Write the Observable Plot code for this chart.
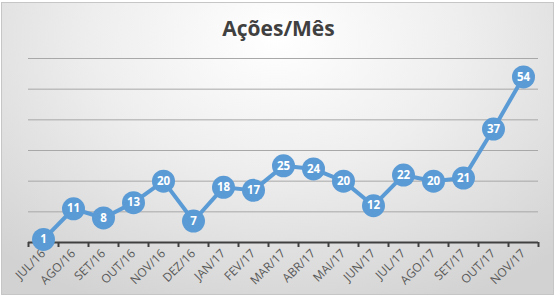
<!DOCTYPE html>
<html><head><meta charset="utf-8">
<script src="https://cdn.jsdelivr.net/npm/d3@7"></script>
<script src="https://cdn.jsdelivr.net/npm/@observablehq/plot@0.6"></script>
<style>
html,body{margin:0;padding:0;background:#fff;}
#wrap{position:relative;width:557px;height:299px;overflow:hidden;}
#box{position:absolute;left:1px;top:2px;width:551px;height:291px;border:1px solid #c6c6c6;
  background:radial-gradient(ellipse 75% 100% at 50% 12%, #ffffff 0%, #eeeeee 45%, #d2d2d2 100%);}
#title{position:absolute;left:0;width:557px;top:13px;text-align:center;font:bold 21px "Open Sans",sans-serif;color:#404040;line-height:30px;}
#plot{position:absolute;left:0;top:46px;}
#plot svg{background:transparent;}
</style></head>
<body>
<div id="wrap"><div id="box"></div><div id="title">Ações/Mês</div><div id="plot"></div></div>
<script>
const months = ["JUL/16","AGO/16","SET/16","OUT/16","NOV/16","DEZ/16","JAN/17","FEV/17","MAR/17","ABR/17","MAI/17","JUN/17","JUL/17","AGO/17","SET/17","OUT/17","NOV/17"];
const values = [1,11,8,13,20,7,18,17,25,24,20,12,22,20,21,37,54];
const gridValues = [10,20,30,40,50,60];

const data = months.map((m,i)=>({i, m, v: values[i]}));
const boundaries = d3.range(months.length + 1).map(k => k - 0.5);
const blue = "#5b9bd5";

const chart = Plot.plot({
  width: 557, height: 253,
  marginTop: 12, marginBottom: 57, marginLeft: 28, marginRight: 19,
  style: {background: "transparent", fontFamily: "Open Sans, sans-serif"},
  x: {type: "linear", domain: [-0.5, months.length - 0.5]},
  y: {domain: [0, 60], axis: null},
  marks: [
    Plot.gridY(gridValues, {stroke: "#a8a8a8", strokeOpacity: 1, strokeWidth: 1}),
    Plot.ruleY([0], {stroke: "#404040", strokeWidth: 2}),
    Plot.axisX({ticks: boundaries, tickSize: 5, tickFormat: () => "", stroke: "#404040", strokeWidth: 2, label: null}),
    Plot.axisX({ticks: d3.range(months.length), tickSize: 0, tickPadding: 9, tickRotate: -45, tickFormat: i => months[i], fill: "#595959", fontSize: 12, label: null}),
    Plot.line(data, {x: "i", y: "v", stroke: blue, strokeWidth: 4}),
    Plot.dot(data, {x: "i", y: "v", r: 11.5, fill: blue, stroke: "none"}),
    Plot.text(data, {x: "i", y: "v", text: d => String(d.v), fill: "white", fontWeight: "bold", fontSize: 11.5})
  ]
});
document.getElementById("plot").appendChild(chart);
</script>
</body></html>
